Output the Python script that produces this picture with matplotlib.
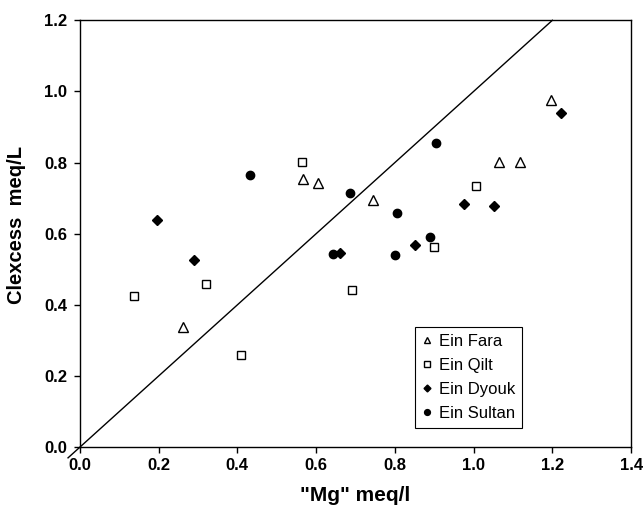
import matplotlib
matplotlib.use('Agg')
import matplotlib.pyplot as plt

plt.rcParams['font.family'] = ['Liberation Sans', 'DejaVu Sans']

# Ein Fara
fara_x = [0.262, 0.567, 0.604, 0.745, 1.064, 1.119, 1.196]
fara_y = [0.338, 0.753, 0.743, 0.694, 0.803, 0.803, 0.977]
# Ein Qilt
qilt_x = [0.137, 0.321, 0.408, 0.565, 0.690, 0.899, 1.006]
qilt_y = [0.426, 0.460, 0.258, 0.803, 0.441, 0.564, 0.735]
# Ein Dyouk
dyouk_x = [0.196, 0.290, 0.661, 0.850, 0.976, 1.053, 1.221]
dyouk_y = [0.638, 0.525, 0.546, 0.569, 0.683, 0.679, 0.939]
# Ein Sultan
sultan_x = [0.432, 0.643, 0.686, 0.800, 0.805, 0.890, 0.904]
sultan_y = [0.766, 0.544, 0.714, 0.539, 0.659, 0.591, 0.855]

# 1:1 line
line_x = [-0.03, 1.2]
line_y = [-0.03, 1.2]

fig = plt.figure(figsize=(6.44, 5.07), dpi=100)
ax = fig.add_axes([0.124, 0.118, 0.856, 0.842])

ax.plot(line_x, line_y, color='black', lw=1.0, clip_on=False, zorder=1)
ax.plot(fara_x, fara_y, ls='none', marker='^', ms=6.5, mfc='white', mec='black', mew=1.0, label='Ein Fara')
ax.plot(qilt_x, qilt_y, ls='none', marker='s', ms=6, mfc='white', mec='black', mew=1.0, label='Ein Qilt')
ax.plot(dyouk_x, dyouk_y, ls='none', marker='D', ms=5, mfc='black', mec='black', label='Ein Dyouk')
ax.plot(sultan_x, sultan_y, ls='none', marker='o', ms=6, mfc='black', mec='black', label='Ein Sultan')

ax.set_xlim(0, 1.4)
ax.set_ylim(0, 1.2)
ax.set_xticks([0.0, 0.2, 0.4, 0.6, 0.8, 1.0, 1.2, 1.4])
ax.set_yticks([0.0, 0.2, 0.4, 0.6, 0.8, 1.0, 1.2])
ax.set_xticklabels(['%.1f' % v for v in ax.get_xticks()], fontweight='bold', fontsize=12)
ax.set_yticklabels(['%.1f' % v for v in ax.get_yticks()], fontweight='bold', fontsize=12)
ax.tick_params(direction='out', length=4, width=1, colors='black')
ax.tick_params(axis='y', pad=5)
for s in ax.spines.values():
    s.set_linewidth(1.0)

ax.set_xlabel('"Mg" meq/l', fontweight='bold', fontsize=15, labelpad=10)
ax.set_ylabel('Clexcess  meq/L', fontweight='bold', fontsize=14.5)
ax.yaxis.set_label_coords(-0.098, 0.52)

leg = ax.legend(loc='lower left', bbox_to_anchor=(0.608, 0.045), fontsize=12,
                fancybox=False, edgecolor='black', framealpha=1, markerscale=0.7,
                handlelength=0.6, handletextpad=0.45, labelspacing=0.55, borderpad=0.4,
                borderaxespad=0)
leg.get_frame().set_linewidth(0.8)

fig.savefig('out.png', dpi=100)
